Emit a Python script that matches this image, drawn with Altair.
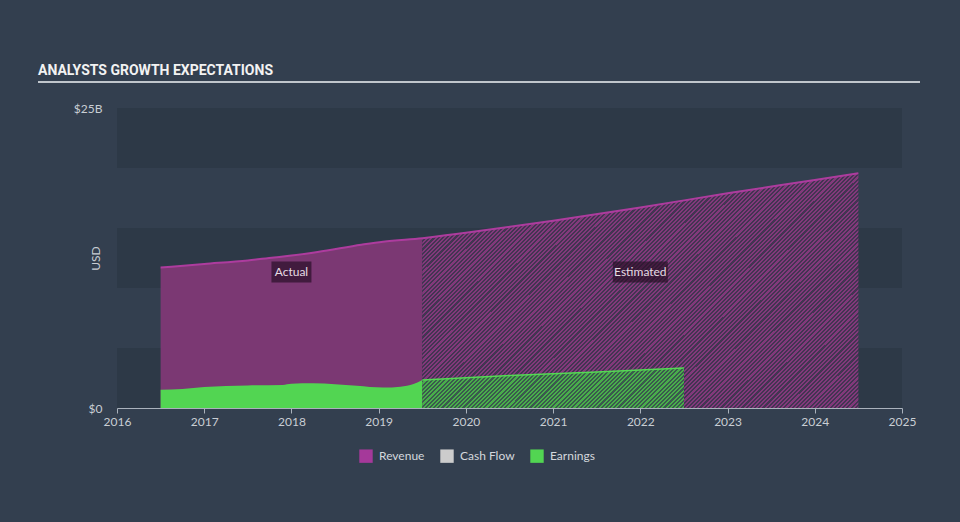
import altair as alt
import pandas as pd

# ---------------- data ----------------
rev_act_year = [2016.5, 2017.0, 2017.5, 2017.8, 2018.0, 2018.3, 2018.8, 2019.05, 2019.5]
rev_act_val = [11.7, 12.0, 12.3, 12.55, 12.7, 13.0, 13.6, 13.86, 14.15]
rev_est_year = [2019.5, 2020.0, 2021.0, 2022.0, 2023.0, 2024.0, 2024.5]
rev_est_val = [14.15, 14.6, 15.6, 16.7, 17.9, 19.0, 19.56]

earn_act_year = [2016.5, 2016.75, 2017.0, 2017.25, 2017.5, 2017.9, 2018.0, 2018.25, 2018.5, 2018.75, 2019.05, 2019.25, 2019.4, 2019.5]
earn_act_val = [1.52, 1.58, 1.75, 1.83, 1.88, 1.92, 2.02, 2.06, 1.98, 1.85, 1.70, 1.78, 2.0, 2.33]
earn_est_year = [2019.5, 2020.5, 2021.5, 2022.5]
earn_est_val = [2.33, 2.7, 3.0, 3.33]

series_names = ["Revenue", "Cash Flow", "Earnings"]
series_colors = ["#a5399a", "#cccccc", "#52d552"]

band_lo = [0, 5, 10, 15, 20]
band_hi = [5, 10, 15, 20, 25]
band_col = ["#2d3947", "#333f4f", "#2d3947", "#333f4f", "#2d3947"]

ann_label = ["Actual", "Estimated"]
ann_year = [2018.0, 2022.0]
ann_val = [11.33, 11.33]
ann_box_w = [40, 55]

x_ticks = list(range(2016, 2026))
y_ticks = [0, 25]

# ---------------- layout ----------------
W, H = 785, 300
PL, PT = 117, 108
BG = "#333f4f"
FONT = "Lato"

xs = alt.Scale(domain=[2016, 2025], nice=False, zero=False)
ys = alt.Scale(domain=[0, 25], nice=False)

x_axis = alt.Axis(values=x_ticks, format="d", title=None, grid=False,
                  domainColor="#aab2bc", tickColor="#aab2bc", tickSize=5,
                  labelColor="#c9ced4", labelFont=FONT, labelFontSize=12,
                  labelPadding=3, labelFlush=False, labelOverlap=False)
y_axis = alt.Axis(values=y_ticks, title="USD", grid=False, domain=False, ticks=False,
                  labelExpr="datum.value == 0 ? '$0' : '$' + datum.value + 'B'",
                  labelColor="#c9ced4", labelFont=FONT, labelFontSize=12, labelPadding=15,
                  titleColor="#c9ced4", titleFont=FONT, titleFontSize=12, titleFontWeight="normal",
                  titleAngle=270, titleX=-22, titleY=150, titleAlign="center", titleBaseline="middle")


def X(field):
    return alt.X(f"{field}:Q", scale=xs, axis=x_axis)


def Y(field):
    return alt.Y(f"{field}:Q", scale=ys, axis=y_axis)


def stripes(light, dark, w, h, period=4.2):
    r = h / w
    s = (1 + r) / (1 + r * r)
    n = int(round((w + h) / period))
    stops = []
    for k in range(n):
        a = round(k / n, 6)
        m = round((k + 0.5) / n, 6)
        b = round((k + 1) / n, 6)
        stops += [alt.GradientStop(offset=a, color=dark), alt.GradientStop(offset=m, color=dark),
                  alt.GradientStop(offset=m, color=light), alt.GradientStop(offset=b, color=light)]
    return alt.LinearGradient(gradient="linear", stops=stops, x1=0, y1=0, x2=s, y2=s * r)


bands_df = pd.DataFrame({"lo": band_lo, "hi": band_hi, "col": band_col})
rev_act = pd.DataFrame({"year": rev_act_year, "val": rev_act_val})
rev_est = pd.DataFrame({"year": rev_est_year, "val": rev_est_val})
rev_all = pd.concat([rev_act, rev_est.iloc[1:]], ignore_index=True)
earn_act = pd.DataFrame({"year": earn_act_year, "val": earn_act_val})
earn_est = pd.DataFrame({"year": earn_est_year, "val": earn_est_val})
leg_df = pd.DataFrame({"series": series_names})
ann_df = pd.DataFrame({"label": ann_label, "year": ann_year, "val": ann_val, "w": ann_box_w})

bands = alt.Chart(bands_df).mark_rect().encode(
    x=alt.value(0), x2=alt.value(W), y=Y("lo"), y2=alt.Y2("hi"),
    fill=alt.Fill("col:N", scale=None))

rev_area_a = alt.Chart(rev_act).mark_area(interpolate="monotone", color="#7b3873").encode(
    x=X("year"), y=Y("val"))
rev_area_e = alt.Chart(rev_est).mark_area(
    interpolate="monotone", color=stripes("#82397b", "#433452", 436, 235)).encode(
    x=X("year"), y=Y("val"))
rev_line = alt.Chart(rev_all).mark_line(interpolate="monotone", color="#ad3c9e", strokeWidth=2).encode(
    x=X("year"), y=Y("val"))

earn_area_a = alt.Chart(earn_act).mark_area(interpolate="monotone", color="#52d552").encode(
    x=X("year"), y=Y("val"))
earn_area_e = alt.Chart(earn_est).mark_area(
    interpolate="monotone", color=stripes("#49ad4b", "#3a5a4d", 262, 40)).encode(
    x=X("year"), y=Y("val"))
earn_line = alt.Chart(earn_est).mark_line(interpolate="monotone", color="#55d855", strokeWidth=1.5).encode(
    x=X("year"), y=Y("val"))

legend_layer = alt.Chart(leg_df).mark_square(opacity=0).encode(
    x=alt.value(0), y=alt.value(0),
    color=alt.Color("series:N", scale=alt.Scale(domain=series_names, range=series_colors),
                    sort=series_names,
                    legend=alt.Legend(orient="none", legendX=242, legendY=341, direction="horizontal",
                                      title=None, symbolType="square", symbolSize=180,
                                      symbolOpacity=1, symbolStrokeWidth=0,
                                      labelColor="#d4d8dd", labelFont=FONT, labelFontSize=12,
                                      labelOffset=6, columnPadding=15)))

ann_layers = []
for i, lab in enumerate(ann_label):
    d = ann_df[ann_df["label"] == lab]
    ann_layers.append(alt.Chart(d).mark_rect(width=int(ann_box_w[i]), height=21,
                                             color="#2a0f28", opacity=0.7).encode(
        x=X("year"), y=Y("val")))
ann_text = alt.Chart(ann_df).mark_text(font=FONT, fontSize=12, color="#e6dce4", baseline="middle").encode(
    x=X("year"), y=Y("val"), text="label:N")

title = alt.Chart(pd.DataFrame({"t": ["ANALYSTS GROWTH EXPECTATIONS"]})).mark_text(
    font="Roboto", fontWeight="bold", fontSize=14,
    color="#f2f2f2", align="left", baseline="alphabetic").encode(
    x=alt.value(38 - PL), y=alt.value(75 - PT), text="t:N")
title_rule = alt.Chart(pd.DataFrame({"a": [0]})).mark_rule(color="#c0c6cc", strokeWidth=2).encode(
    x=alt.value(38 - PL), x2=alt.value(920 - PL), y=alt.value(82 - PT))

chart = alt.layer(
    bands, rev_area_a, rev_area_e, rev_line, earn_area_a, earn_area_e, earn_line,
    *ann_layers, ann_text, legend_layer, title, title_rule
).properties(
    width=W, height=H, background=BG,
    padding={"left": PL, "top": PT, "right": 960 - PL - W, "bottom": 522 - PT - H},
    autosize=alt.AutoSizeParams(type="none")
).configure_view(stroke=None)

chart.save("out.html", embed_options={"renderer": "svg", "actions": False})
